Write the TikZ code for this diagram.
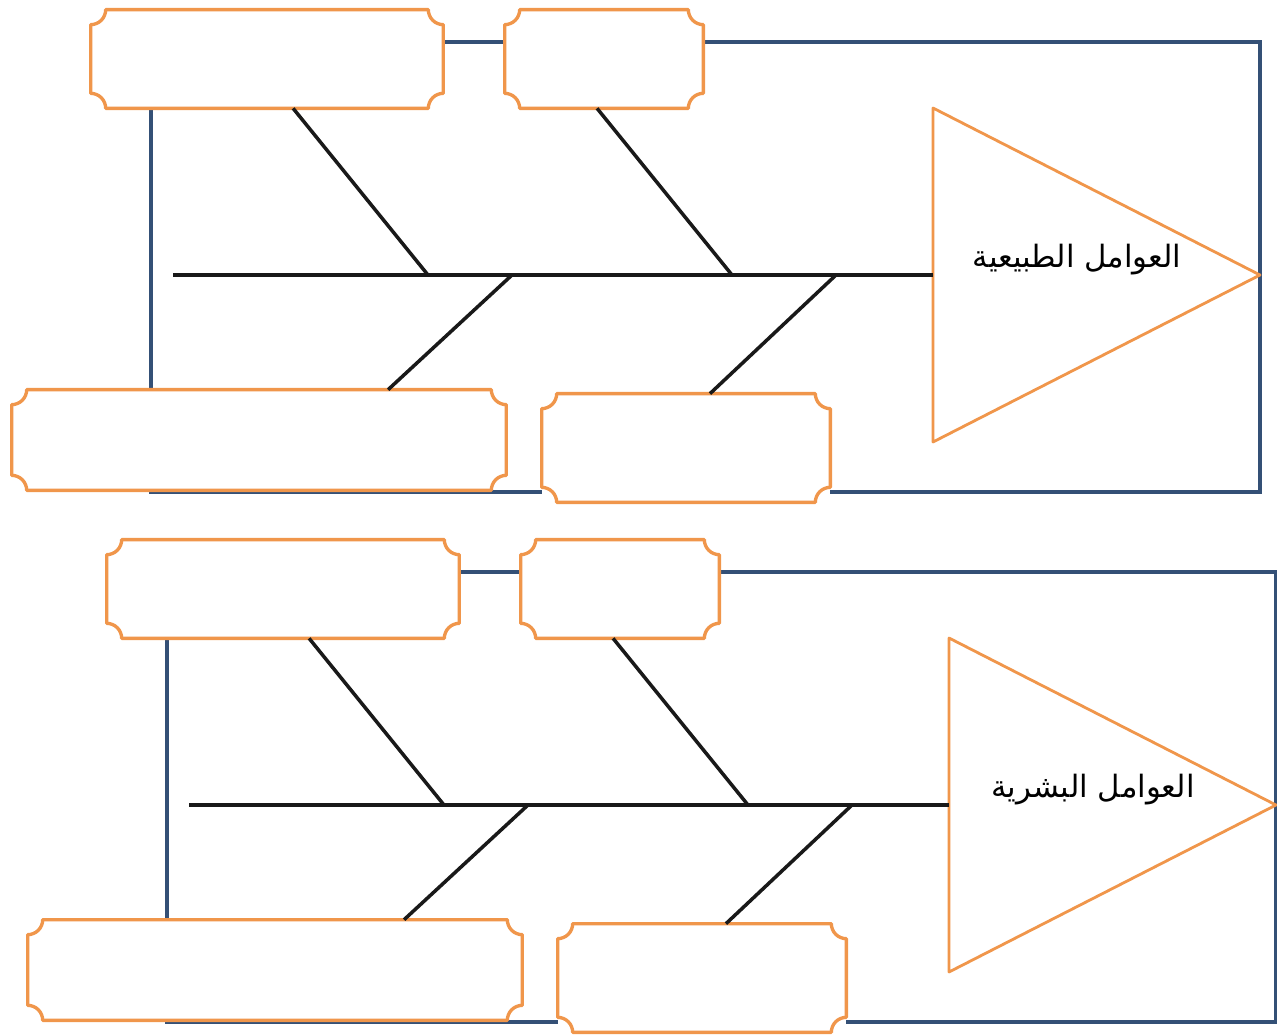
\documentclass[tikz,border=0pt]{standalone}
\usepackage{fontspec}
\newfontfamily\arabicfont[Script=Arabic]{DejaVu Sans}
\TeXXeTstate=1
\usetikzlibrary{calc}

\definecolor{framecol}{RGB}{52,80,118}
\definecolor{boxcol}{RGB}{240,150,75}
\newcommand\crad{0.3cm}

\tikzset{
  frameline/.style={draw=framecol, line width=2pt},
  bone/.style={draw=black!90, line width=2pt},
  cause/.style={fill=white, inner sep=0pt},
  plaqueline/.style={draw=boxcol, line width=1.9pt, line join=round},
  effect/.style={draw=boxcol, line width=1.6pt, fill=white, line join=round},
  effectlabel/.style={font=\arabicfont\fontsize{17.5}{21}\selectfont, inner sep=0pt},
}

\begin{document}
\begin{tikzpicture}[x=0.02cm, y=-0.02cm]
  \useasboundingbox (0,0) rectangle (1277,1034);

  \foreach \i/\sx/\sy/\lab in {1/0/0/{العوامل الطبيعية}, 2/16/530/{العوامل البشرية}} {
    \begin{scope}[shift={(\sx,\sy)}]

      % outer frame
      \coordinate (f1\i) at (151,42);
      \coordinate (f2\i) at (1260,492);
      \draw[frameline] (f1\i) rectangle (f2\i);

      % head of the fish
      \coordinate (ht\i) at (933,108);
      \coordinate (hb\i) at (933,442);
      \coordinate (hp\i) at (1260,275);
      \coordinate (hm\i) at (933,275);
      \draw[effect] (ht\i) -- (hp\i) -- (hb\i) -- cycle;
      \node[effectlabel] (lab\i) at (1077,260) {\beginR\lab\endR};

      % spine
      \coordinate (s\i) at (173,275);
      \draw[bone] (s\i) -- (hm\i);

      \coordinate (u1\i) at (428,275);
      \coordinate (u2\i) at (732,275);
      \coordinate (l1\i) at (512,275);
      \coordinate (l2\i) at (836,275);

      % cause boxes
      \node[cause, minimum width=7.04cm, minimum height=1.96cm] (tl\i) at (267,59) {};
      \node[cause, minimum width=3.96cm, minimum height=1.96cm] (tm\i) at (604,59) {};
      \node[cause, minimum width=9.88cm, minimum height=2.0cm] (bl\i) at (259,440) {};
      \node[cause, minimum width=5.76cm, minimum height=2.16cm] (br\i) at (686,448) {};

      \foreach \n in {tl,tm,bl,br} {
        \draw[plaqueline]
          ($(\n\i.north west)+(\crad,0)$) -- ($(\n\i.north east)+(-\crad,0)$)
          arc[start angle=180, end angle=270, radius=\crad]
          -- ($(\n\i.south east)+(0,\crad)$)
          arc[start angle=90, end angle=180, radius=\crad]
          -- ($(\n\i.south west)+(\crad,0)$)
          arc[start angle=0, end angle=90, radius=\crad]
          -- ($(\n\i.north west)+(0,-\crad)$)
          arc[start angle=270, end angle=360, radius=\crad]
          -- cycle;
      }

      % bones
      \draw[bone] ($(tl\i.south west)!0.574!(tl\i.south east)$) -- (u1\i);
      \draw[bone] ($(tm\i.south west)!0.465!(tm\i.south east)$) -- (u2\i);
      \draw[bone] ($(bl\i.north west)!0.761!(bl\i.north east)$) -- (l1\i);
      \draw[bone] ($(br\i.north west)!0.583!(br\i.north east)$) -- (l2\i);

    \end{scope}
  }
\end{tikzpicture}
\end{document}
